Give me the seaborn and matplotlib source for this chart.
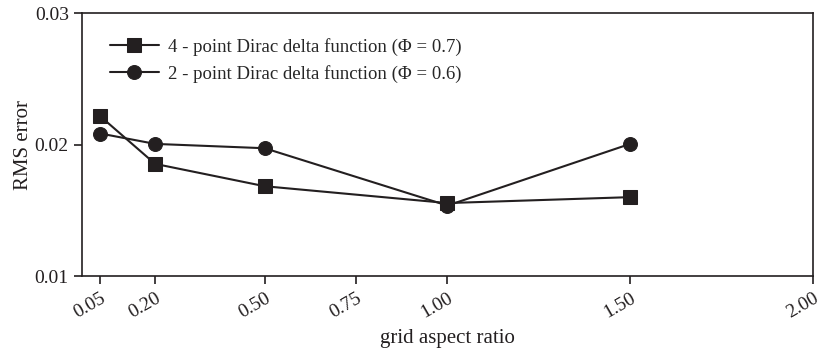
import pandas as pd
import matplotlib
matplotlib.use("Agg")
import matplotlib.pyplot as plt
import seaborn as srn

# dados
razao = [0.05, 0.20, 0.50, 1.00, 1.50]
erro_4pt = [0.02215, 0.01853, 0.01683, 0.01555, 0.01600]
erro_2pt = [0.02084, 0.02005, 0.01972, 0.01536, 0.02005]
nome_4pt = "4 - point Dirac delta function (\u03a6 = 0.7)"
nome_2pt = "2 - point Dirac delta function (\u03a6 = 0.6)"
xticks = [0.05, 0.20, 0.50, 0.75, 1.00, 1.50, 2.00]
yticks = [0.01, 0.02, 0.03]

df = pd.DataFrame({
    "razao": razao * 2,
    "erro": erro_4pt + erro_2pt,
    "serie": [nome_4pt] * len(razao) + [nome_2pt] * len(razao),
})

srn.set_style("ticks")
plt.rcParams["font.family"] = ["Liberation Serif", "DejaVu Serif"]

fig = plt.figure(figsize=(8.22, 3.53), dpi=100)
ax = fig.add_axes([0.0998, 0.218, 0.889, 0.745])

srn.lineplot(data=df, x="razao", y="erro", hue="serie", style="serie",
             markers={nome_4pt: "s", nome_2pt: "o"}, dashes=False,
             palette={nome_4pt: "#231f20", nome_2pt: "#231f20"},
             markersize=10, linewidth=1.5, markeredgecolor="#231f20",
             ax=ax)

ax.set_xlim(0, 2.0)
ax.set_ylim(0.01, 0.03)
ax.set_xticks(xticks)
ax.set_xticklabels([f"{v:.2f}" for v in xticks], rotation=30, ha="right",
                   va="top", rotation_mode="anchor", fontsize=14)
ax.set_yticks(yticks)
ax.set_yticklabels([f"{v:.2f}" for v in yticks], fontsize=14)
ax.tick_params(direction="out", length=6, width=1.2, colors="#231f20")
ax.tick_params(axis="x", pad=4)
for s in ax.spines.values():
    s.set_linewidth(1.2)
    s.set_color("#231f20")

ax.set_xlabel("grid aspect ratio", fontsize=15, color="#231f20", labelpad=5)
ax.set_ylabel("RMS error", fontsize=15, color="#231f20", labelpad=1)

leg = ax.legend(title=None, loc="upper left", frameon=False, fontsize=13.5,
                handlelength=2.6, handletextpad=0.5,
                bbox_to_anchor=(0.015, 0.97), labelspacing=0.5)

fig.savefig("out.png", dpi=100)
